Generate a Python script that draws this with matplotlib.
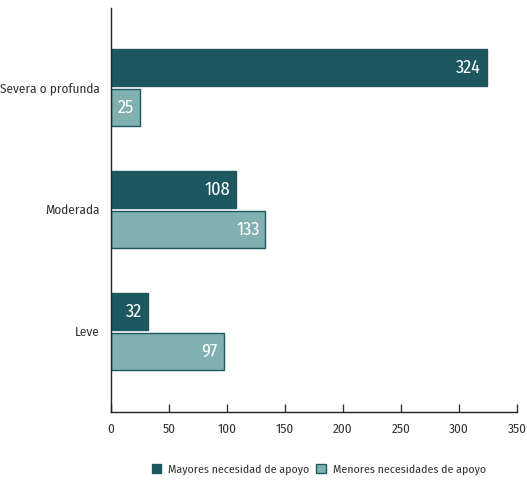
import matplotlib.pyplot as plt
import numpy as np

categories = ["Leve", "Moderada", "Severa o profunda"]
mayores = [32, 108, 324]
menores = [97, 133, 25]
series_names = ["Mayores necesidad de apoyo", "Menores necesidades de apoyo"]
xticks = [0, 50, 100, 150, 200, 250, 300, 350]

plt.rcParams['font.family'] = ['Fira Sans Condensed', 'DejaVu Sans']

dark = '#1d5860'
light = '#80b0b0'
edge = '#1d5860'
txt = '#333333'

fig = plt.figure(figsize=(5.27, 4.82), dpi=100)
ax = fig.add_axes([0.2106, 0.1452, 0.7704, 0.8382])

y = np.arange(len(categories))
h = 0.303
off = 0.164
b1 = ax.barh(y + off, mayores, height=h, color=dark, edgecolor=edge, linewidth=1)
b2 = ax.barh(y - off, menores, height=h, color=light, edgecolor=edge, linewidth=1)

for bars, vals in [(b1, mayores), (b2, menores)]:
    for bar, v in zip(bars, vals):
        ax.text(v - 5, bar.get_y() + bar.get_height() / 2, str(v),
                ha='right', va='center', color='white', fontsize=13)

ax.set_xlim(0, 350)
ax.set_ylim(-0.66, 2.652)
ax.set_xticks(xticks)
ax.set_yticks(y)
ax.set_yticklabels(categories)
ax.tick_params(axis='x', direction='in', length=6, width=1, color=txt,
               labelsize=9.5, labelcolor=txt, pad=8)
ax.tick_params(axis='y', length=0, labelsize=9.5, labelcolor=txt, pad=8)
for s in ['top', 'right']:
    ax.spines[s].set_visible(False)
for s in ['left', 'bottom']:
    ax.spines[s].set_color('#222222')
    ax.spines[s].set_linewidth(1)

fig.legend([b1, b2], series_names, loc='center', bbox_to_anchor=(0.605, 0.026),
           ncol=2, frameon=False, fontsize=8.5, handlelength=0.8, handleheight=0.8,
           handletextpad=0.6, columnspacing=0.6, labelcolor=txt)

fig.savefig('out.png', dpi=100)
